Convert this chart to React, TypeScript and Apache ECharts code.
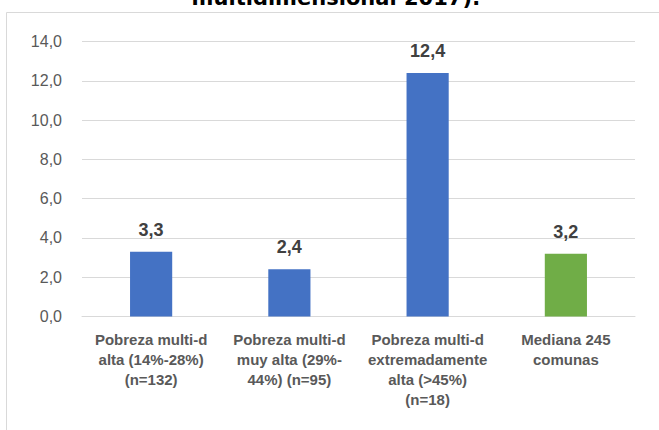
import React, { useEffect, useRef } from "react";
import * as echarts from "echarts";

const categories = [
  "Pobreza multi-d\nalta (14%-28%)\n(n=132)",
  "Pobreza multi-d\nmuy alta (29%-\n44%) (n=95)",
  "Pobreza multi-d\nextremadamente\nalta (>45%)\n(n=18)",
  "Mediana 245\ncomunas",
];
const values = [3.3, 2.4, 12.4, 3.2];
const barColors = ["#4472C4", "#4472C4", "#4472C4", "#70AD47"];
const titleText = "multidimensional 2017):";

export default function App() {
  const ref = useRef<HTMLDivElement>(null);
  useEffect(() => {
    if (!ref.current) return;
    const chart = echarts.init(ref.current, undefined, { renderer: "svg" });
    const fmt = (v: number) => v.toFixed(1).replace(".", ",");
    chart.setOption({
      animation: false,
      backgroundColor: "#ffffff",
      graphic: [
        {
          type: "rect",
          shape: { x: 6.5, y: 12.5, width: 720, height: 500 },
          style: { fill: "none", stroke: "#D9D9D9", lineWidth: 1 },
          silent: true,
        },
        {
          type: "text",
          x: 336,
          y: 8,
          style: {
            text: titleText,
            fontFamily: "DejaVu Sans",
            fontWeight: "bold",
            fontSize: 21,
            fill: "#000000",
            align: "center",
            verticalAlign: "bottom",
          },
        },
      ],
      grid: { left: 82, right: 24, top: 41.5, bottom: 113.5 },
      xAxis: {
        type: "category",
        data: categories,
        axisLine: { lineStyle: { color: "#D9D9D9" } },
        axisTick: { show: false },
        axisLabel: {
          interval: 0,
          color: "#595959",
          fontFamily: "Liberation Sans",
          fontWeight: "bold",
          fontSize: 15,
          lineHeight: 20,
          margin: 13,
        },
      },
      yAxis: {
        type: "value",
        min: 0,
        max: 14,
        interval: 2,
        axisLine: { show: false },
        axisTick: { show: false },
        splitLine: { lineStyle: { color: "#D9D9D9" } },
        axisLabel: {
          formatter: fmt,
          color: "#595959",
          fontFamily: "Liberation Sans",
          fontSize: 16,
          margin: 20,
        },
      },
      series: [
        {
          type: "bar",
          barWidth: "30.5%",
          data: values.map((v, i) => ({ value: v, itemStyle: { color: barColors[i] } })),
          label: {
            show: true,
            position: "top",
            distance: 13,
            formatter: (p: any) => fmt(p.value),
            color: "#404040",
            fontFamily: "Liberation Sans",
            fontWeight: "bold",
            fontSize: 18,
          },
        },
      ],
    });
    return () => chart.dispose();
  }, []);
  return <div ref={ref} style={{ width: 659, height: 430, position: "absolute", left: 0, top: 0 }} />;
}
